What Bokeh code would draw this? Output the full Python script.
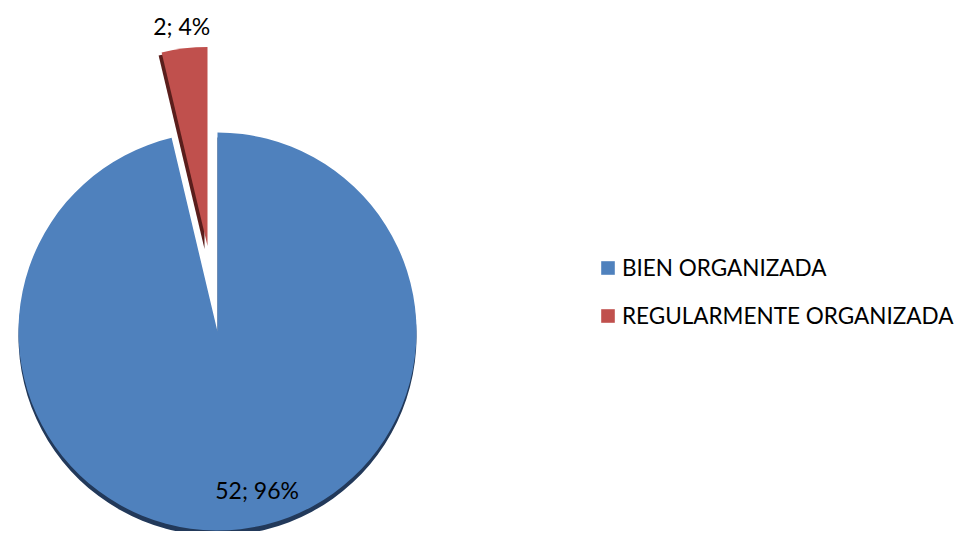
import numpy as np
from bokeh.plotting import figure
from bokeh.models import Range1d, Legend, LegendItem, ColumnDataSource
from bokeh.core.properties import value
from bokeh.embed import file_html
from bokeh.resources import INLINE

# ---- data ----
categories = ["BIEN ORGANIZADA", "REGULARMENTE ORGANIZADA"]
counts = [52, 2]
percents = [96, 4]

# ---- styles / layout ----
W, H = 954, 531
colors = ["#4F81BD", "#C0504D"]
shadow_colors = ["#22395A", "#5A1E1C"]
explode = [0, 86]
label_r = [160, 222]
label_dx = [21, 0]
CX, CY, R = 217, H - 331, 199
FONT = "Lato"

total = float(sum(counts))
fr = np.array(counts) / total
cum = np.concatenate([[0.0], np.cumsum(fr)[:-1]])
start = np.pi / 2 - cum * 2 * np.pi
end = start - fr * 2 * np.pi
mid = (start + end) / 2
ex = np.array(explode, dtype=float)
cx = CX + ex * np.cos(mid)
cy = CY + ex * np.sin(mid)

src = ColumnDataSource(dict(
    x=cx, y=cy, start=start, end=end, color=colors, shadow=shadow_colors,
    sx=cx + np.array([0, -3]), sy=cy - np.array([5, 3]),
    lx=cx + np.array(label_r) * np.cos(mid) + np.array(label_dx),
    ly=cy + np.array(label_r) * np.sin(mid),
    label=[f"{c}; {p}%" for c, p in zip(counts, percents)],
))

p = figure(width=W, height=H, output_backend="svg", toolbar_location=None,
           x_range=Range1d(0, W), y_range=Range1d(0, H), min_border=0)
p.axis.visible = False
p.grid.visible = False
p.outline_line_color = None

# shadows
p.wedge(x="sx", y="sy", radius=R, start_angle="start", end_angle="end",
        direction="clock", fill_color="shadow", line_color=None, source=src)
# slices
slices = p.wedge(x="x", y="y", radius=R, start_angle="start", end_angle="end",
                 direction="clock", fill_color="color", line_color=None, source=src)

p.text(x="lx", y="ly", text="label", source=src, text_font=value(FONT),
       text_font_size="23px", text_align="center", text_baseline="middle",
       text_color="#000000")

items = [LegendItem(label=cat, renderers=[slices], index=i)
         for i, cat in enumerate(categories)]

legend = Legend(items=items, location=(599, 202), orientation="vertical",
                glyph_width=17, glyph_height=17, label_standoff=6, spacing=21,
                padding=0, margin=0, border_line_color=None,
                background_fill_alpha=0, label_text_font=FONT,
                label_text_font_size="22.5px", label_height=24,
                label_text_color="#000000")
p.add_layout(legend, "center")

open("out.html", "w").write(file_html(p, INLINE))
